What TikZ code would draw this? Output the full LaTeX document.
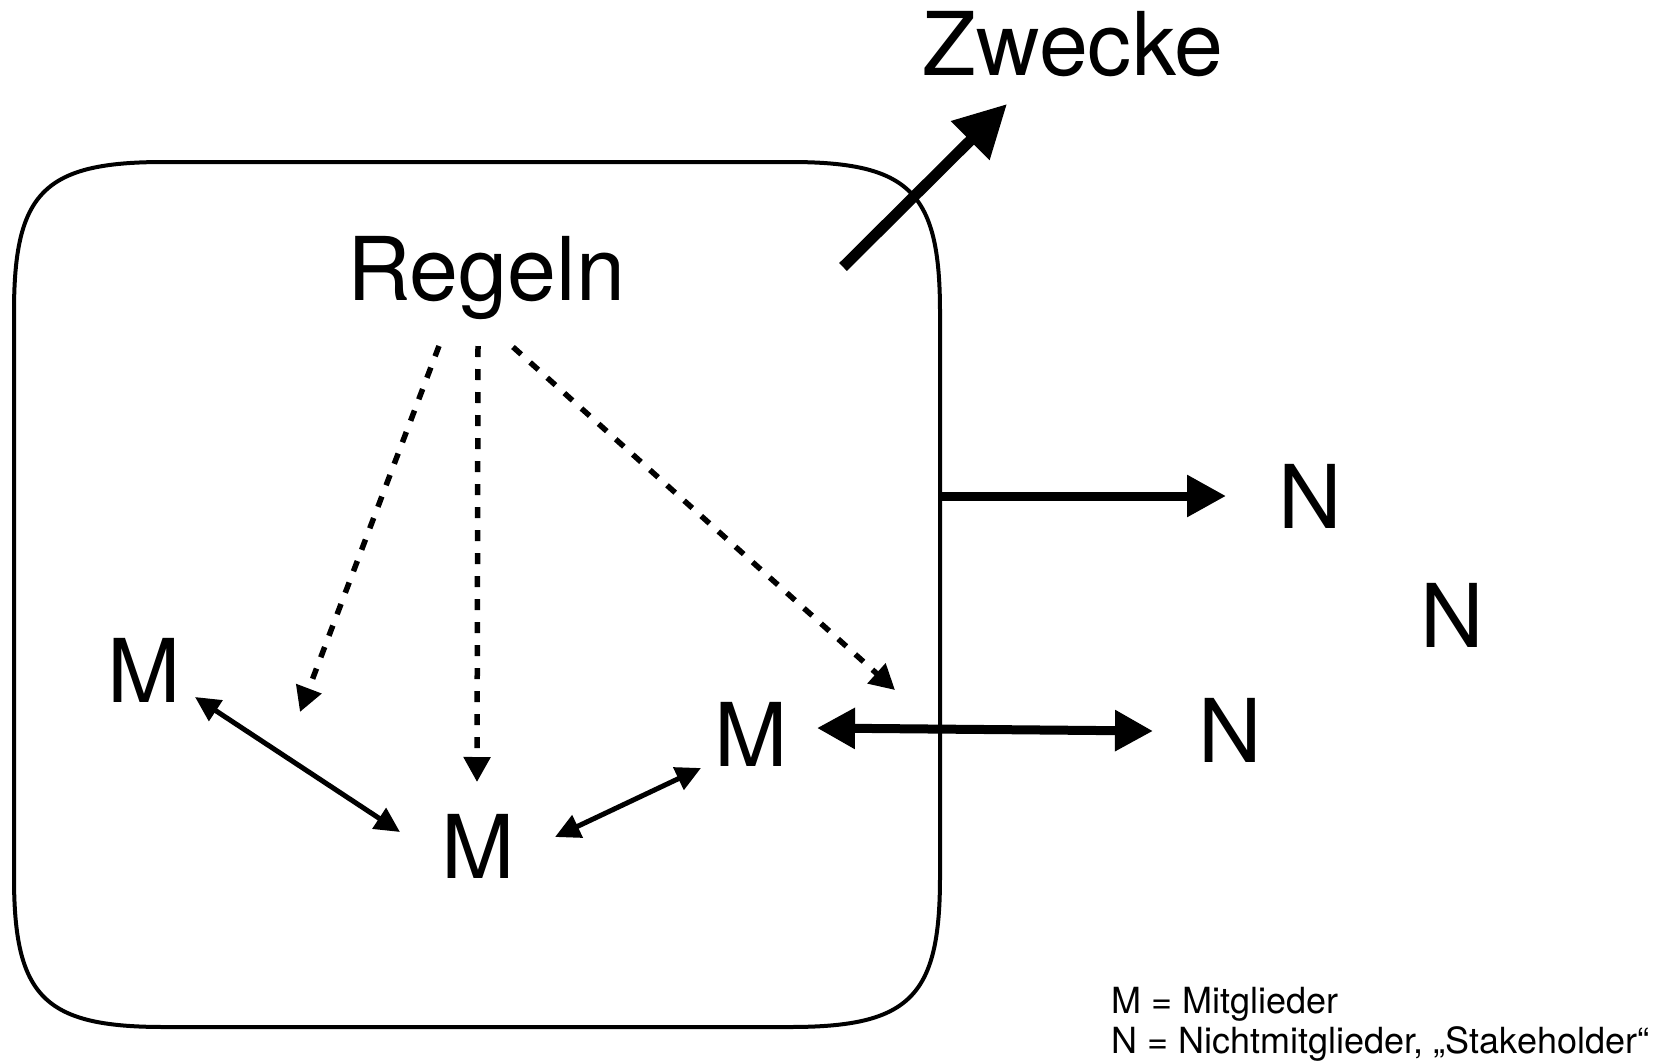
\documentclass[tikz,border=0pt]{standalone}
\usepackage{fontspec}
\setmainfont{TeX Gyre Heros}
\usetikzlibrary{arrows.meta}
\begin{document}
\begin{tikzpicture}[x=0.5pt,y=-0.5pt,
  big/.style={font=\fontsize{44}{50}\selectfont, anchor=base, inner sep=0pt},
  legend/.style={font=\fontsize{18}{21}\selectfont, anchor=base west, inner sep=0pt},
  boxline/.style={line width=2pt},
  bigarrow/.style={line width=5.5pt, -{Triangle[length=26pt,width=26pt]}},
  narrow/.style={line width=4.5pt, -{Triangle[length=19.5pt,width=20pt]}},
  ndouble/.style={line width=4.5pt, {Triangle[length=19pt,width=19.5pt]}-{Triangle[length=19pt,width=19.5pt]}},
  mdouble/.style={line width=2.5pt, {Triangle[length=12.5pt,width=12pt]}-{Triangle[length=12.5pt,width=12pt]}},
  rulearrow/.style={line width=2.75pt, dash pattern=on 5.5pt off 6pt, -{Triangle[length=12.5pt,width=13pt]}}
]
\fill[white] (0,0) rectangle (1670,1060);
\useasboundingbox (0,0) rectangle (1670,1060);

% organisation box
\draw[boxline] (164,162) -- (790,162)
  .. controls (910,162) and (940,192) .. (940,312) -- (940,877)
  .. controls (940,997) and (910,1027) .. (790,1027) -- (164,1027)
  .. controls (44,1027) and (14,997) .. (14,877) -- (14,312)
  .. controls (14,192) and (44,162) .. (164,162) -- cycle;

% texts
\node[big] (zw) at (1073,75) {Zwecke};
\node[big] (rg) at (486,300) {Regeln};
\node[big] (m1) at (144,702) {M};
\node[big] (m2) at (478,878) {M};
\node[big] (m3) at (751,766) {M};
\node[big] (n1) at (1310,528) {N};
\node[big] (n2) at (1452,647) {N};
\node[big] (n3) at (1230,762) {N};
\node[legend] (l1) at (1111,1013) {M = Mitglieder};
\node[legend] (l2) at (1111,1053) {N = Nichtmitglieder, „Stakeholder“};

% arrow end points
\coordinate (zwS) at (843,267);
\coordinate (zwE) at (1007,104);
\coordinate (n1S) at (940,496);
\coordinate (n1E) at (1226,496);
\coordinate (m3E) at (817,728);
\coordinate (n3E) at (1153,731);
\coordinate (m1a) at (195,697);
\coordinate (m2a) at (400,832);
\coordinate (m2b) at (555,837);
\coordinate (m3b) at (701,768);
\coordinate (rgL) at (439,346);
\coordinate (rgM) at (478,346);
\coordinate (rgR) at (513,347);
\coordinate (m1r) at (300,712);
\coordinate (m2r) at (477,782);
\coordinate (m3r) at (895,690);

% connectors
\draw[bigarrow] (zwS) -- (zwE);
\draw[narrow] (n1S) -- (n1E);
\draw[ndouble] (m3E) -- (n3E);
\draw[mdouble] (m1a) -- (m2a);
\draw[mdouble] (m2b) -- (m3b);
\draw[rulearrow] (rgL) -- (m1r);
\draw[rulearrow] (rgM) -- (m2r);
\draw[rulearrow] (rgR) -- (m3r);
\end{tikzpicture}
\end{document}
